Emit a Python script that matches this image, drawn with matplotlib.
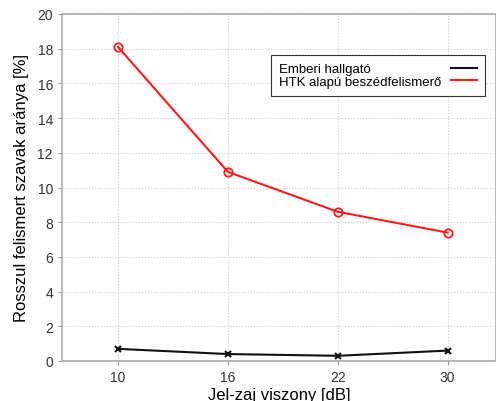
import numpy as np
import matplotlib.pyplot as plt

plt.rcParams['font.family'] = ['Liberation Sans', 'DejaVu Sans']

snr_labels = ['10', '16', '22', '30']
human = [0.7, 0.4, 0.3, 0.6]
htk = [18.1, 10.9, 8.6, 7.4]

fig = plt.figure(figsize=(4.96, 4.02), dpi=100)
ax = fig.add_axes([62/496, 1 - 362/402, 1 - 62/496, (362 - 15)/402])

x = np.arange(len(snr_labels))
ax.plot(x, human, color='#111111', lw=1.5, marker='x', ms=5, mew=1.5,
        label='Emberi hallgató')
ax.plot(x, htk, color='#ff1a1a', lw=1.5, marker='o', ms=6, mfc='none', mew=1.3,
        label='HTK alapú beszédfelismerő')

ax.set_xlim(-0.51, 3.44)
ax.set_ylim(0, 20)
ax.set_xticks(x)
ax.set_xticklabels(snr_labels)
ax.set_yticks(np.arange(0, 21, 2))
ax.grid(True, ls=':', color='#cccccc', lw=0.8)
ax.tick_params(colors='#999999', labelcolor='#333333', labelsize=10, length=3)
for s in ax.spines.values():
    s.set_color('#aaaaaa')
    s.set_linewidth(1.2)

ax.set_xlabel('Jel-zaj viszony [dB]', fontsize=12, labelpad=2)
ax.set_ylabel('Rosszul felismert szavak aránya [%]', fontsize=12, labelpad=6)

leg = ax.legend(loc='upper left', bbox_to_anchor=((271 - 62)/434, (362 - 56)/347),
                borderaxespad=0, markerfirst=False, handlelength=2.0, fontsize=9.5,
                fancybox=False, framealpha=1, edgecolor='#333333', borderpad=0.6,
                labelspacing=0.05, handletextpad=0.5)
for h in leg.get_lines():
    h.set_marker('')
leg.get_frame().set_linewidth(0.8)

# left-align the legend texts, keep the line samples on the right
rows = leg._legend_handle_box.get_children()[0].get_children()
for r in rows:
    r.width = 198
    r.mode = 'expand'

fig.savefig('out.png', dpi=100)
